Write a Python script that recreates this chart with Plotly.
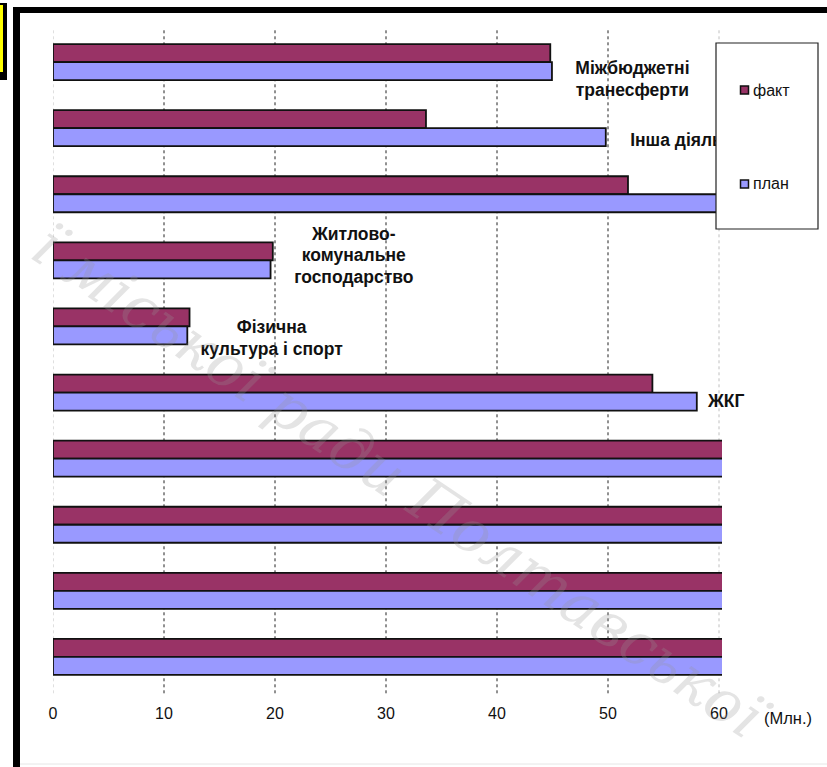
import plotly.graph_objects as go

# ---- data ----
categories = ["Міжбюджетні трансферти", "Інша діяльність", "Категорія 3",
              "Житлово-комунальне господарство", "Фізична культура і спорт", "ЖКГ",
              "Категорія 7", "Категорія 8", "Категорія 9", "Категорія 10"]
fact = [44.8, 33.6, 51.8, 19.8, 12.3, 54.0, 70.0, 70.0, 70.0, 70.0]
plan = [44.95, 49.8, 61.0, 19.6, 12.1, 58.0, 70.0, 70.0, 70.0, 70.0]
x_ticks = [0, 10, 20, 30, 40, 50, 60]
unit_label = "(Млн.)"
series_names = ["факт", "план"]

# visible category label lines and their placement (x value, y position in category units)
label_lines = ["Міжбюджетні", "транесферти", "Інша діяльність",
               "Житлово-", "комунальне", "господарство",
               "Фізична", "культура і спорт", "ЖКГ"]
label_x = [52.2, 52.2, 52.0, 27.1, 27.1, 27.1, 19.7, 19.7, 59.0]
label_y = [0.11, 0.44, 1.20, 2.62, 2.95, 3.28, 4.03, 4.36, 5.15]
label_pos = ["middle center", "middle center", "middle right",
             "middle center", "middle center", "middle center",
             "middle center", "middle center", "middle right"]

FACT_COLOR = "#993366"
PLAN_COLOR = "#9999FF"

W, H = 827, 767
L, R, T, B = 53, 105, 29, 77
PW, PH = W - L - R, H - T - B


def px(xp):
    return (xp - L) / PW


def py(yp):
    return 1 - (yp - T) / PH


ypos = list(range(len(categories)))

fig = go.Figure()
fig.add_trace(go.Bar(y=ypos, x=fact, orientation="h", name=series_names[0],
                     marker=dict(color=FACT_COLOR, line=dict(color="#111", width=1.8)),
                     hovertext=categories))
fig.add_trace(go.Bar(y=ypos, x=plan, orientation="h", name=series_names[1],
                     marker=dict(color=PLAN_COLOR, line=dict(color="#111", width=1.8)),
                     hovertext=categories))
fig.add_trace(go.Scatter(x=label_x, y=label_y, mode="text", text=label_lines,
                         textposition=label_pos, cliponaxis=False,
                         textfont=dict(family="Liberation Sans, Arial", size=17.5,
                                       color="#111", weight="bold"),
                         hoverinfo="skip"))

shapes = []
# gridlines
for v in x_ticks:
    edge = v == x_ticks[0] or v == x_ticks[-1]
    shapes.append(dict(type="line", xref="x", yref="paper", x0=v, x1=v, y0=-0.005, y1=1.0,
                       line=dict(color="#c0c0c0" if edge else "#222", width=1, dash="dot"),
                       layer="below"))
# legend box (above traces)
shapes.append(dict(type="rect", xref="paper", yref="paper", x0=px(716), x1=px(818),
                   y0=py(229), y1=py(43), fillcolor="white",
                   line=dict(color="#222", width=1.2), layer="above"))
for c, yc in [(FACT_COLOR, 90), (PLAN_COLOR, 184)]:
    shapes.append(dict(type="rect", xref="paper", yref="paper", x0=px(740.5), x1=px(748.5),
                       y0=py(yc + 4), y1=py(yc - 4), fillcolor=c,
                       line=dict(color="#111", width=1.5), layer="above"))
# slide frame
shapes.append(dict(type="rect", xref="paper", yref="paper", x0=px(13), x1=px(20),
                   y0=py(767), y1=py(7), fillcolor="black", line=dict(width=0), layer="above"))
shapes.append(dict(type="rect", xref="paper", yref="paper", x0=px(13), x1=px(827),
                   y0=py(13), y1=py(7), fillcolor="black", line=dict(width=0), layer="above"))
shapes.append(dict(type="line", xref="paper", yref="paper", x0=px(20), x1=px(827),
                   y0=py(764), y1=py(764), line=dict(color="#e6e6e6", width=1), layer="above"))
# yellow box at top-left
shapes.append(dict(type="rect", xref="paper", yref="paper", x0=px(-5), x1=px(7),
                   y0=py(80), y1=py(3), fillcolor="black", line=dict(width=0), layer="above"))
shapes.append(dict(type="rect", xref="paper", yref="paper", x0=px(-5), x1=px(3),
                   y0=py(72), y1=py(5), fillcolor="#FFFF00", line=dict(width=0), layer="above"))

FONT = "Liberation Sans, Arial"
annotations = [
    dict(xref="paper", yref="paper", x=px(751), y=py(90), text=series_names[0],
         showarrow=False, xanchor="left", yanchor="middle",
         font=dict(family=FONT, size=16, color="#111")),
    dict(xref="paper", yref="paper", x=px(751), y=py(184), text=series_names[1],
         showarrow=False, xanchor="left", yanchor="middle",
         font=dict(family=FONT, size=16, color="#111")),
    dict(xref="paper", yref="paper", x=px(762), y=py(718), text=unit_label,
         showarrow=False, xanchor="left", yanchor="middle",
         font=dict(family=FONT, size=16.5, color="#111")),
    # watermark
    dict(xref="paper", yref="paper", x=px(400), y=py(482),
         text="ї міської ради Полтавської", showarrow=False, textangle=34,
         xanchor="center", yanchor="middle",
         font=dict(family="DejaVu Serif", size=60, style="italic",
                   color="rgba(150,150,150,0.26)")),
]

fig.update_layout(
    width=W, height=H,
    margin=dict(l=L, r=R, t=T, b=B, autoexpand=False),
    paper_bgcolor="white", plot_bgcolor="white",
    barmode="group", bargap=0.455, bargroupgap=0,
    showlegend=False,
    shapes=shapes, annotations=annotations,
    xaxis=dict(range=[0, 60.27], tickvals=x_ticks, showgrid=False, zeroline=False,
               showline=False, ticks="", ticklabelstandoff=12,
               tickfont=dict(family=FONT, size=16, color="#111")),
    yaxis=dict(range=[9.5, -0.5], visible=False),
)

fig.write_html("out.html")
